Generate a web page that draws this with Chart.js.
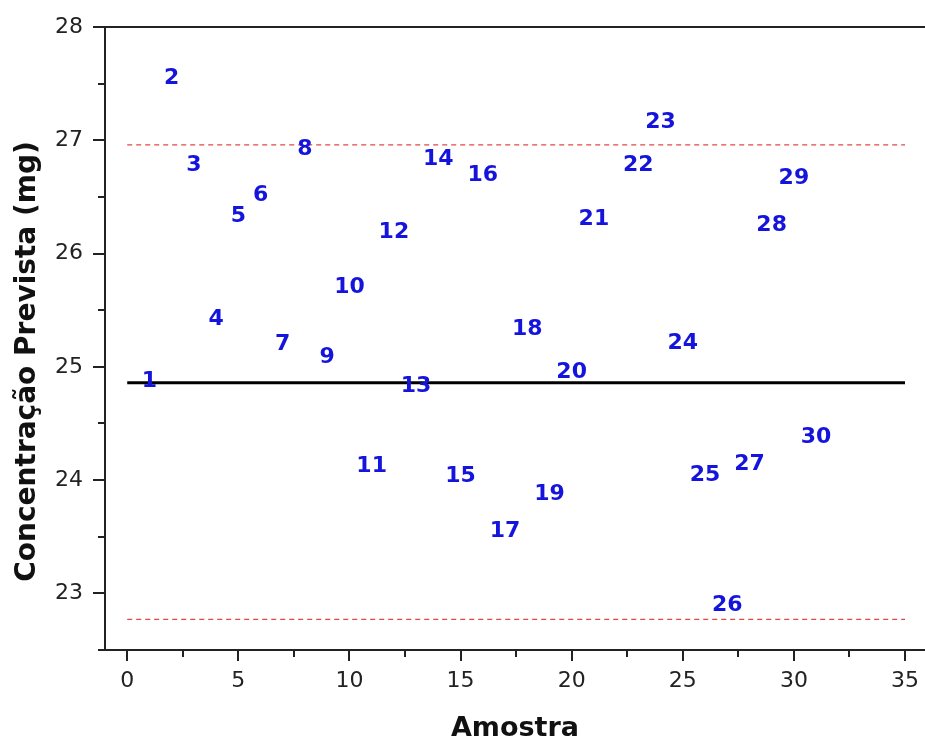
<!DOCTYPE html>
<html>
<head>
<meta charset="utf-8">
<script src="https://cdn.jsdelivr.net/npm/chart.js@4/dist/chart.umd.min.js"></script>
<style>
  html, body { margin: 0; padding: 0; background: #fff; overflow: hidden; }
  #wrap { width: 925px; height: 742px; }
</style>
</head>
<body>
<div id="wrap"><canvas id="chart" width="925" height="742"></canvas></div>
<script>
// Sample numbers, their horizontal positions and predicted concentrations (mg)
const sampleIds = [1, 2, 3, 4, 5, 6, 7, 8, 9, 10, 11, 12, 13, 14, 15, 16, 17, 18, 19, 20,
                   21, 22, 23, 24, 25, 26, 27, 28, 29, 30];
const samplePositions = [1, 2, 3, 4, 5, 6, 7, 8, 9, 10, 11, 12, 13, 14, 15, 16, 17, 18, 19, 20,
                         21, 23, 24, 25, 26, 27, 28, 29, 30, 31];
const predicted = [24.88, 27.56, 26.79, 25.43, 26.34, 26.52, 25.21, 26.93, 25.09, 25.71,
                   24.13, 26.20, 24.84, 26.84, 24.04, 26.70, 23.56, 25.34, 23.88, 24.96,
                   26.31, 26.79, 27.17, 25.22, 24.05, 22.90, 24.15, 26.26, 26.67, 24.39];

// Reference lines: mean and control limits, drawn across samples 0..35
const meanValue = 24.86;
const upperLimit = 26.96;
const lowerLimit = 22.77;
const lineSpan = [0, 35];

// Axis tick positions (major + minor)
const xTickValues = [0, 2.5, 5, 7.5, 10, 12.5, 15, 17.5, 20, 22.5, 25, 27.5, 30, 32.5, 35];
const yTickValues = [22.5, 23, 23.5, 24, 24.5, 25, 25.5, 26, 26.5, 27, 27.5, 28];

const AXIS_COLOR = '#222';
const LABEL_BLUE = '#1414dc';
const LIMIT_RED = '#e04848';

const hLine = (value) => lineSpan.map(x => ({ x: x, y: value }));

// Sample numbers written at each point position (digits optically centred on the point)
const sampleLabels = {
  id: 'sampleLabels',
  afterDatasetsDraw(chart) {
    const { ctx } = chart;
    const meta = chart.getDatasetMeta(0);
    ctx.save();
    ctx.font = 'bold 22px "DejaVu Sans"';
    ctx.fillStyle = LABEL_BLUE;
    ctx.textAlign = 'center';
    ctx.textBaseline = 'middle';
    meta.data.forEach((pt, i) => {
      ctx.fillText(String(sampleIds[i]), pt.x, pt.y + 1);
    });
    ctx.restore();
  }
};

// Outward tick marks (long for major, short for minor), top frame line and y title
const frameAndTicks = {
  id: 'frameAndTicks',
  afterDraw(chart) {
    const { ctx, chartArea: a, scales: { x, y } } = chart;
    ctx.save();
    ctx.strokeStyle = AXIS_COLOR;
    ctx.lineWidth = 2;
    ctx.beginPath();
    x.ticks.forEach(t => {
      const px = Math.round(x.getPixelForValue(t.value));
      const len = t.value % 5 === 0 ? 11 : 7;
      ctx.moveTo(px, a.bottom);
      ctx.lineTo(px, a.bottom + len);
    });
    y.ticks.forEach(t => {
      const py = Math.round(y.getPixelForValue(t.value));
      const len = Number.isInteger(t.value) ? 12 : 7;
      ctx.moveTo(a.left - len, py);
      ctx.lineTo(a.left, py);
    });
    ctx.moveTo(a.left, a.top);
    ctx.lineTo(a.right, a.top);
    ctx.stroke();

    ctx.translate(28, (a.top + a.bottom) / 2 + 23);
    ctx.rotate(-Math.PI / 2);
    ctx.font = 'bold 28px "DejaVu Sans"';
    ctx.fillStyle = '#111';
    ctx.textAlign = 'center';
    ctx.textBaseline = 'middle';
    ctx.fillText('Concentração Prevista (mg)', 0, 0);
    ctx.restore();
  }
};

new Chart(document.getElementById('chart'), {
  type: 'scatter',
  data: {
    datasets: [
      {
        label: 'Amostras',
        data: samplePositions.map((x, i) => ({ x: x, y: predicted[i] })),
        pointRadius: 0,
        pointHoverRadius: 0,
        showLine: false
      },
      {
        type: 'line',
        label: 'Média',
        data: hLine(meanValue),
        borderColor: '#000',
        borderWidth: 3,
        pointRadius: 0,
        fill: false
      },
      {
        type: 'line',
        label: 'Limite superior',
        data: hLine(upperLimit),
        borderColor: LIMIT_RED,
        borderWidth: 1.2,
        borderDash: [5, 4],
        pointRadius: 0,
        fill: false
      },
      {
        type: 'line',
        label: 'Limite inferior',
        data: hLine(lowerLimit),
        borderColor: LIMIT_RED,
        borderWidth: 1.2,
        borderDash: [5, 4],
        pointRadius: 0,
        fill: false
      }
    ]
  },
  options: {
    responsive: false,
    animation: false,
    devicePixelRatio: 1,
    layout: { padding: { top: 27, left: 0, right: 0, bottom: 0 } },
    plugins: {
      legend: { display: false },
      tooltip: { enabled: false }
    },
    scales: {
      x: {
        type: 'linear',
        min: -1,
        max: 35.9,
        afterBuildTicks: (scale) => { scale.ticks = xTickValues.map(v => ({ value: v })); },
        afterFit: (scale) => {
          scale.height = 92;
          scale.paddingLeft = 0;
          scale.paddingRight = 0;
        },
        grid: { display: false, drawTicks: false },
        border: { display: true, width: 2, color: AXIS_COLOR },
        ticks: {
          autoSkip: false,
          maxRotation: 0,
          padding: 18,
          color: AXIS_COLOR,
          font: { family: 'DejaVu Sans', size: 22 },
          callback: (v) => (v % 5 === 0 ? String(v) : '')
        },
        title: {
          display: true,
          text: 'Amostra',
          color: '#111',
          font: { family: 'DejaVu Sans', size: 27, weight: 'bold', lineHeight: 1 },
          padding: { top: 0, bottom: 0 }
        }
      },
      y: {
        type: 'linear',
        min: 22.5,
        max: 28,
        afterBuildTicks: (scale) => { scale.ticks = yTickValues.map(v => ({ value: v })); },
        afterFit: (scale) => {
          scale.width = 105;
          scale.paddingTop = 0;
          scale.paddingBottom = 0;
        },
        grid: { display: false, drawTicks: false },
        border: { display: true, width: 2, color: AXIS_COLOR },
        ticks: {
          autoSkip: false,
          padding: 22,
          color: AXIS_COLOR,
          font: { family: 'DejaVu Sans', size: 22 },
          callback: (v) => (Number.isInteger(v) ? String(v) : '')
        }
      }
    }
  },
  plugins: [sampleLabels, frameAndTicks]
});
</script>
</body>
</html>
